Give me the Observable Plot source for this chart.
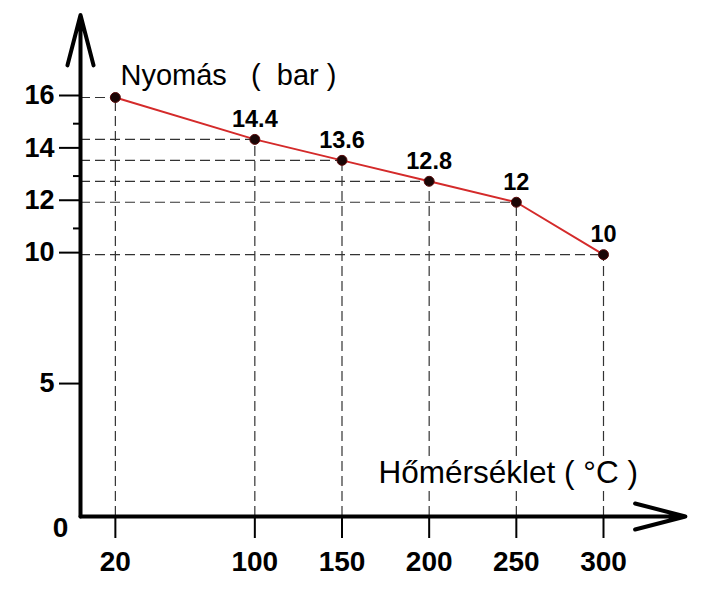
<!DOCTYPE html>
<html>
<head>
<meta charset="utf-8">
<script src="https://cdn.jsdelivr.net/npm/d3@7"></script>
<script src="https://cdn.jsdelivr.net/npm/@observablehq/plot@0.6"></script>
<style>
  html, body { margin: 0; padding: 0; background: #fff; }
  #chart svg { display: block; }
</style>
</head>
<body>
<div id="chart"></div>
<script>
// Data
const temperatures = [20, 100, 150, 200, 250, 300];
const pressures = [16, 14.4, 13.6, 12.8, 12, 10];
const pointLabels = ["", "14.4", "13.6", "12.8", "12", "10"];
const xTicks = [20, 100, 150, 200, 250, 300];
const yTicks = [5, 10, 12, 14, 16];
const yMinorTicks = [11, 13, 15];
const yTitle = "Nyomás\u00A0\u00A0\u00A0(\u00A0\u00A0bar\u00A0)";
const xTitle = "Hőmérséklet\u00A0(\u00A0°C\u00A0)";
const xAxisEnd = 347;   // arrow tip beyond last tick (data units)
const yAxisEnd = 19.15;

const data = temperatures.map((t, i) => ({t, p: pressures[i], label: pointLabels[i]}));
const axes = [
  {x1: 0, y1: 0, x2: xAxisEnd, y2: 0},
  {x1: 0, y1: 0, x2: 0, y2: yAxisEnd}
];

const font = "Liberation Sans, Arial, Helvetica, sans-serif";

const chart = Plot.plot({
  width: 711,
  height: 601,
  marginLeft: 80,
  marginBottom: 85,
  marginTop: 0,
  marginRight: 0,
  style: {fontFamily: font, color: "#000", background: "#fff"},
  x: {domain: [0, 300], range: [80, 603]},
  y: {domain: [0, 16], range: [516, 97]},
  marks: [
    // dashed guides
    Plot.ruleY(data, {y: "p", x1: 0, x2: "t", stroke: "#333", strokeWidth: 1.2, strokeDasharray: "10,5"}),
    Plot.ruleX(data, {x: "t", y1: 0, y2: "p", stroke: "#333", strokeWidth: 1.2, strokeDasharray: "10,5"}),
    // axis titles
    Plot.text([yTitle], {frameAnchor: "top-left", dx: 40, dy: 64, textAnchor: "start", fontSize: 29, fill: "#000"}),
    Plot.text([xTitle], {frameAnchor: "bottom-left", dx: 298, dy: -34, textAnchor: "start", fontSize: 31.5, fill: "#000", stroke: "#fff", strokeWidth: 10}),
    // axes with arrows
    Plot.arrow(axes, {x1: "x1", y1: "y1", x2: "x2", y2: "y2", stroke: "#000", strokeWidth: 4, headLength: 19.5, headAngle: 29}),
    Plot.axisX(xTicks, {anchor: "bottom", tickSize: 22, tickPadding: 13, fontSize: 28, fontWeight: "bold", strokeWidth: 2, label: null}),
    Plot.axisY(yTicks, {anchor: "left", tickSize: 21, tickPadding: 5, fontSize: 27, fontWeight: "bold", strokeWidth: 2, dy: -2, label: null}),
    Plot.axisY(yMinorTicks, {anchor: "left", tickSize: 7, strokeWidth: 2, text: null, label: null}),
    Plot.text([0], {x: 0, y: 0, text: d => String(d), dx: -20, dy: 12, fontSize: 28, fontWeight: "bold", fill: "#000"}),
    // data
    Plot.line(data, {x: "t", y: "p", stroke: "#d42a2a", strokeWidth: 2}),
    Plot.dot(data, {x: "t", y: "p", r: 5, fill: "#1a0606", stroke: "#5a0a0a", strokeWidth: 1}),
    Plot.text(data, {x: "t", y: "p", text: "label", dy: -20, fontSize: 23.5, fontWeight: "bold", fill: "#000"})
  ]
});
document.getElementById("chart").appendChild(chart);
</script>
</body>
</html>
